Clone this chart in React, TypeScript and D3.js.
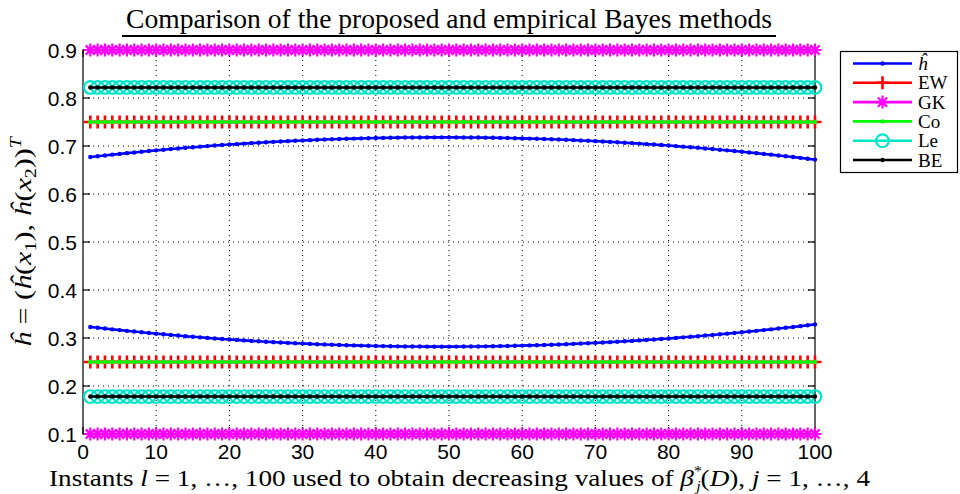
import React, { useEffect, useRef } from 'react';
import * as d3 from 'd3';

// Instants l = 1..100
const instants = d3.range(1, 101);

// Estimated h-hat components
const hUpper = [
  0.6770, 0.6787, 0.6803, 0.6820, 0.6835, 0.6851, 0.6866, 0.6881, 0.6895, 0.6909,
  0.6923, 0.6936, 0.6949, 0.6962, 0.6974, 0.6986, 0.6998, 0.7009, 0.7020, 0.7030,
  0.7040, 0.7050, 0.7060, 0.7069, 0.7077, 0.7086, 0.7094, 0.7101, 0.7109, 0.7116,
  0.7122, 0.7129, 0.7134, 0.7140, 0.7145, 0.7150, 0.7154, 0.7158, 0.7162, 0.7166,
  0.7169, 0.7171, 0.7174, 0.7176, 0.7177, 0.7178, 0.7179, 0.7180, 0.7180, 0.7180,
  0.7179, 0.7178, 0.7177, 0.7176, 0.7174, 0.7171, 0.7169, 0.7166, 0.7162, 0.7158,
  0.7154, 0.7150, 0.7145, 0.7140, 0.7134, 0.7129, 0.7122, 0.7116, 0.7109, 0.7101,
  0.7094, 0.7086, 0.7077, 0.7069, 0.7060, 0.7050, 0.7040, 0.7030, 0.7020, 0.7009,
  0.6998, 0.6986, 0.6974, 0.6962, 0.6949, 0.6936, 0.6923, 0.6909, 0.6895, 0.6881,
  0.6866, 0.6851, 0.6835, 0.6820, 0.6803, 0.6787, 0.6770, 0.6753, 0.6735, 0.6717,
];
const hLower = [
  0.3230, 0.3213, 0.3197, 0.3180, 0.3165, 0.3149, 0.3134, 0.3119, 0.3105, 0.3091,
  0.3077, 0.3064, 0.3051, 0.3038, 0.3026, 0.3014, 0.3002, 0.2991, 0.2980, 0.2970,
  0.2960, 0.2950, 0.2940, 0.2931, 0.2923, 0.2914, 0.2906, 0.2899, 0.2891, 0.2884,
  0.2878, 0.2871, 0.2866, 0.2860, 0.2855, 0.2850, 0.2846, 0.2842, 0.2838, 0.2834,
  0.2831, 0.2829, 0.2826, 0.2824, 0.2823, 0.2822, 0.2821, 0.2820, 0.2820, 0.2820,
  0.2821, 0.2822, 0.2823, 0.2824, 0.2826, 0.2829, 0.2831, 0.2834, 0.2838, 0.2842,
  0.2846, 0.2850, 0.2855, 0.2860, 0.2866, 0.2871, 0.2878, 0.2884, 0.2891, 0.2899,
  0.2906, 0.2914, 0.2923, 0.2931, 0.2940, 0.2950, 0.2960, 0.2970, 0.2980, 0.2991,
  0.3002, 0.3014, 0.3026, 0.3038, 0.3051, 0.3064, 0.3077, 0.3091, 0.3105, 0.3119,
  0.3134, 0.3149, 0.3165, 0.3180, 0.3197, 0.3213, 0.3230, 0.3247, 0.3265, 0.3283,
];

// Constant estimates of the other methods
const ewLevels = [0.75, 0.25];
const gkLevels = [0.9, 0.1];
const coLevels = [0.75, 0.25];
const leLevels = [0.822, 0.178];
const beLevels = [0.822, 0.178];

const xTicks = [0, 10, 20, 30, 40, 50, 60, 70, 80, 90, 100];
const yTicks = [0.1, 0.2, 0.3, 0.4, 0.5, 0.6, 0.7, 0.8, 0.9];
const legendLabels = ['ĥ', 'EW', 'GK', 'Co', 'Le', 'BE'];

const SERIF = '"Liberation Serif", "DejaVu Serif", serif';
const SANS = '"Liberation Sans", Arial, sans-serif';

type Marker = 'dot' | 'plus' | 'star' | 'circle';

export default function App() {
  const svgRef = useRef<SVGSVGElement | null>(null);

  useEffect(() => {
    if (!svgRef.current) return;
    const W = 960;
    const H = 494;
    const margin = { top: 50, right: 145, bottom: 60, left: 83 };

    const svg = d3.select(svgRef.current);
    svg.selectAll('*').remove();
    svg.attr('width', W).attr('height', H);

    const x = d3.scaleLinear().domain([0, 100]).range([margin.left, W - margin.right]);
    const y = d3.scaleLinear().domain([0.1, 0.9]).range([H - margin.bottom, margin.top]);
    const x0 = x(0), x1 = x(100), y0 = y(0.1), y1 = y(0.9);

    svg.append('rect').attr('width', W).attr('height', H).attr('fill', '#fff');

    // dotted grid
    const grid = svg.append('g');
    xTicks.slice(1, -1).forEach(t => {
      grid.append('line')
        .attr('x1', x(t)).attr('x2', x(t)).attr('y1', y1).attr('y2', y0)
        .attr('stroke', '#000').attr('stroke-width', 1).attr('stroke-dasharray', '1,4');
    });
    yTicks.slice(1, -1).forEach(t => {
      grid.append('line')
        .attr('x1', x0).attr('x2', x1).attr('y1', y(t)).attr('y2', y(t))
        .attr('stroke', '#000').attr('stroke-width', 1).attr('stroke-dasharray', '1,4');
    });

    // box + inward ticks
    const axes = svg.append('g').attr('stroke', '#000').attr('stroke-width', 1.2);
    axes.append('rect').attr('x', x0).attr('y', y1).attr('width', x1 - x0).attr('height', y0 - y1)
      .attr('fill', 'none');
    xTicks.forEach(t => {
      axes.append('line').attr('x1', x(t)).attr('x2', x(t)).attr('y1', y0).attr('y2', y0 - 7);
      axes.append('line').attr('x1', x(t)).attr('x2', x(t)).attr('y1', y1).attr('y2', y1 + 7);
    });
    yTicks.forEach(t => {
      axes.append('line').attr('x1', x0).attr('x2', x0 + 7).attr('y1', y(t)).attr('y2', y(t));
      axes.append('line').attr('x1', x1).attr('x2', x1 - 7).attr('y1', y(t)).attr('y2', y(t));
    });

    // tick labels
    svg.append('g').selectAll('text').data(xTicks).enter().append('text')
      .attr('x', d => x(d)).attr('y', y0 + 25)
      .attr('text-anchor', 'middle')
      .attr('font-family', SANS).attr('font-size', 21)
      .text(d => d);
    svg.append('g').selectAll('text').data(yTicks).enter().append('text')
      .attr('x', x0 - 6).attr('y', d => y(d) + 7.5)
      .attr('text-anchor', 'end')
      .attr('font-family', SANS).attr('font-size', 21)
      .text(d => d3.format('.1f')(d));

    const line = d3.line<[number, number]>().x(d => x(d[0])).y(d => y(d[1]));

    const drawMarker = (g: any, cx: number, cy: number, kind: Marker, color: string) => {
      if (kind === 'dot') {
        g.append('circle').attr('cx', cx).attr('cy', cy).attr('r', 2.2).attr('fill', color);
      } else if (kind === 'circle') {
        g.append('circle').attr('cx', cx).attr('cy', cy).attr('r', 6.3)
          .attr('fill', 'none').attr('stroke', color).attr('stroke-width', 2.2);
      } else if (kind === 'plus') {
        const s = 6.5;
        g.append('path').attr('d', `M${cx - s},${cy}H${cx + s}M${cx},${cy - s}V${cy + s}`)
          .attr('stroke', color).attr('stroke-width', 2.6).attr('fill', 'none');
      } else {
        const s = 6.5, d = 4.6;
        g.append('path')
          .attr('d', `M${cx - s},${cy}H${cx + s}M${cx},${cy - s}V${cy + s}` +
            `M${cx - d},${cy - d}L${cx + d},${cy + d}M${cx - d},${cy + d}L${cx + d},${cy - d}`)
          .attr('stroke', color).attr('stroke-width', 2.2).attr('fill', 'none');
      }
    };

    const drawSeries = (values: number[], color: string, kind: Marker) => {
      const g = svg.append('g');
      const pts: [number, number][] = instants.map((l, i) => [l, values[i]]);
      g.append('path').attr('d', line(pts)).attr('fill', 'none')
        .attr('stroke', color).attr('stroke-width', 2.6);
      pts.forEach(p => drawMarker(g, x(p[0]), y(p[1]), kind, color));
    };
    const constant = (v: number) => instants.map(() => v);

    const colors = ['#0000ff', '#ff0000', '#ff00ff', '#00ff00', '#00e5c8', '#000000'];
    const kinds: Marker[] = ['dot', 'plus', 'star', 'dot', 'circle', 'dot'];

    drawSeries(hUpper, colors[0], kinds[0]);
    drawSeries(hLower, colors[0], kinds[0]);
    [ewLevels, gkLevels, coLevels, leLevels, beLevels].forEach((lv, k) => {
      lv.forEach(v => drawSeries(constant(v), colors[k + 1], kinds[k + 1]));
    });

    // title
    svg.append('text')
      .attr('x', 449).attr('y', 28).attr('text-anchor', 'middle')
      .attr('font-family', SERIF).attr('font-size', 27)
      .attr('textLength', 646).attr('lengthAdjust', 'spacingAndGlyphs')
      .text('Comparison of the proposed and empirical Bayes methods');
    svg.append('line').attr('x1', 122).attr('x2', 776).attr('y1', 36).attr('y2', 36)
      .attr('stroke', '#000').attr('stroke-width', 2.2);

    // x label
    const xl = svg.append('text')
      .attr('x', 459.5).attr('y', 486).attr('text-anchor', 'middle')
      .attr('font-family', SERIF).attr('font-size', 24)
      .attr('textLength', 821).attr('lengthAdjust', 'spacingAndGlyphs');
    xl.append('tspan').text('Instants ');
    xl.append('tspan').attr('font-style', 'italic').text('l');
    xl.append('tspan').text(' = 1, …, 100 used to obtain decreasing values of ');
    xl.append('tspan').attr('font-style', 'italic').text('β');
    xl.append('tspan').attr('font-size', 14).attr('dy', -10).text('*');
    xl.append('tspan').attr('font-size', 14).attr('font-style', 'italic').attr('dx', -5).attr('dy', 15).text('j');
    xl.append('tspan').attr('dy', -5).text('(');
    xl.append('tspan').attr('font-style', 'italic').text('D');
    xl.append('tspan').text('), ');
    xl.append('tspan').attr('font-style', 'italic').text('j');
    xl.append('tspan').text(' = 1, …, 4');

    // y label
    const yl = svg.append('text')
      .attr('transform', `translate(31,${(y0 + y1) / 2}) rotate(-90)`)
      .attr('text-anchor', 'middle')
      .attr('font-family', SERIF).attr('font-size', 24)
      .attr('textLength', 210).attr('lengthAdjust', 'spacingAndGlyphs');
    yl.append('tspan').attr('font-style', 'italic').text('ĥ');
    yl.append('tspan').text(' = (');
    yl.append('tspan').attr('font-style', 'italic').text('ĥ');
    yl.append('tspan').text('(');
    yl.append('tspan').attr('font-style', 'italic').text('x');
    yl.append('tspan').attr('font-size', 16).attr('dy', 5).text('1');
    yl.append('tspan').attr('dy', -5).text('), ');
    yl.append('tspan').attr('font-style', 'italic').text('ĥ');
    yl.append('tspan').text('(');
    yl.append('tspan').attr('font-style', 'italic').text('x');
    yl.append('tspan').attr('font-size', 16).attr('dy', 5).text('2');
    yl.append('tspan').attr('dy', -5).text('))');
    yl.append('tspan').attr('font-size', 16).attr('font-style', 'italic').attr('dy', -10).text('T');

    // legend
    const lg = svg.append('g');
    lg.append('rect').attr('x', 840.5).attr('y', 51.5).attr('width', 117).attr('height', 121)
      .attr('fill', '#fff').attr('stroke', '#000').attr('stroke-width', 1.2);
    legendLabels.forEach((lab, i) => {
      const cy = 63.5 + i * 19.3;
      lg.append('line').attr('x1', 853).attr('x2', 912).attr('y1', cy).attr('y2', cy)
        .attr('stroke', colors[i]).attr('stroke-width', 2.6);
      drawMarker(lg, 882.5, cy, kinds[i], colors[i]);
      lg.append('text').attr('x', 918).attr('y', cy + 6.5)
        .attr('font-family', SERIF).attr('font-size', 19)
        .attr('font-style', i === 0 ? 'italic' : 'normal')
        .text(lab);
    });

    return () => {
      svg.selectAll('*').remove();
    };
  }, []);

  return (
    <svg ref={svgRef} style={{ position: 'absolute', left: 0, top: 0, display: 'block' }} />
  );
}
